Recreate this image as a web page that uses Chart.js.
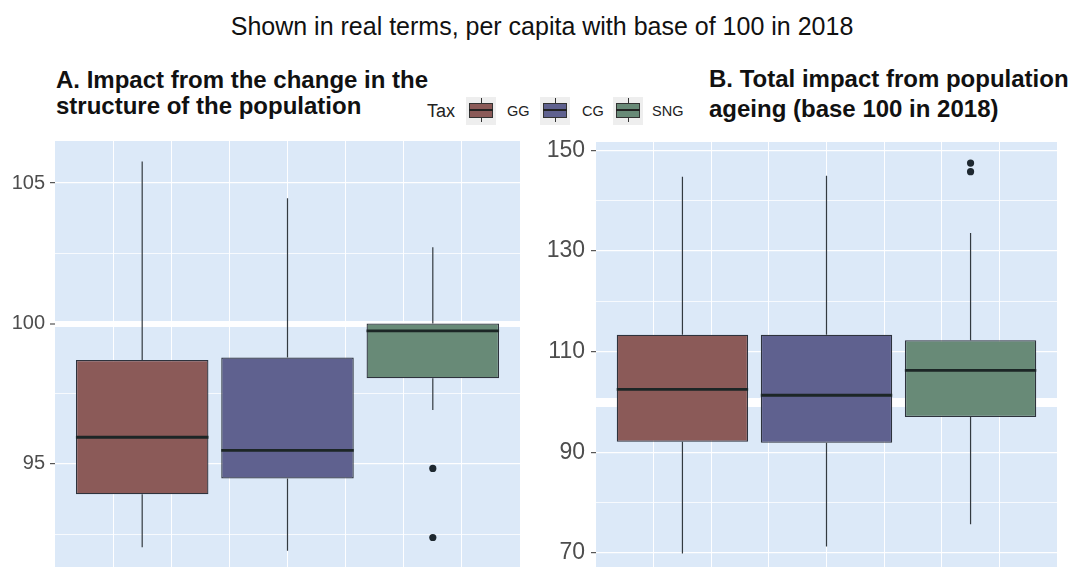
<!DOCTYPE html>
<html><head><meta charset="utf-8">
<script src="https://cdn.jsdelivr.net/npm/chart.js@4/dist/chart.umd.min.js"></script>
<style>
body{margin:0;width:1072px;height:571px;overflow:hidden;background:#fff;font-family:"Liberation Sans",Arial,sans-serif;position:relative}
#main{position:absolute;left:0;width:1084px;top:12px;text-align:center;font-size:25px;line-height:28px;color:#111;white-space:nowrap}
.pt{position:absolute;font-weight:bold;font-size:24px;color:#111;white-space:nowrap}
#tA{left:56px;top:67px;line-height:26px}
#tB{left:709px;top:64px;line-height:30px}
.lg{position:absolute;color:#222;white-space:nowrap;line-height:20px;top:101px}
.kbg{position:absolute;top:97px;width:30px;height:28px;background:#EEEEEE}
.kw{position:absolute;top:98px;height:24px;width:1px;background:#333}
.kb{position:absolute;top:103px;width:22px;height:13px;border:1px solid #333}
.km{position:absolute;top:109px;width:24px;height:2px;background:#222}
#wA{position:absolute;left:0;top:137px;width:524px;height:434px}
#wB{position:absolute;left:530px;top:138px;width:531px;height:433px}
</style></head><body>
<div id="main">Shown in real terms, per capita with base of 100 in 2018</div>
<div id="tA" class="pt">A. Impact from the change in the<br>structure of the population</div>
<div id="tB" class="pt">B. Total impact from population<br>ageing (base 100 in 2018)</div>
<div id="legend"></div>
<div id="wA"><canvas id="cA"></canvas></div>
<div id="wB"><canvas id="cB"></canvas></div>
<script>
// ---- data ----
const taxes = ["GG", "CG", "SNG"];
const boxColors = ["#8B5A58", "#5F618F", "#688A77"];
const xPositions = [1.5, 4, 6.5];        // dodged box centres on the panel's x scale
const xGridLines = [1, 2, 3, 4, 5, 6, 7];

// Panel A: impact from change in population structure
const aMin    = [92.03, 91.91, 96.92];
const aQ1     = [93.92, 94.48, 98.05];
const aMedian = [95.95, 95.48, 99.74];
const aQ3     = [98.70, 98.79, 100.00];
const aMax    = [105.77, 104.46, 102.72];
const aOutX   = [6.5, 6.5];
const aOutY   = [94.84, 92.38];
const aTicks  = [92.5, 95, 97.5, 100, 102.5, 105];
const aLabels = [95, 100, 105];

// Panel B: total impact from population ageing
const bMin    = [69.9, 71.3, 75.7];
const bQ1     = [92.1, 91.9, 97.0];
const bMedian = [102.5, 101.35, 106.3];
const bQ3     = [113.4, 113.4, 112.3];
const bMax    = [144.8, 145.0, 133.6];
const bOutX   = [6.5, 6.5];
const bOutY   = [147.5, 145.8];
const bTicks  = [70, 80, 90, 100, 110, 120, 130, 140, 150];
const bLabels = [70, 90, 110, 130, 150];

const refLine = 100;

// ---- style constants ----
const BOX_WIDTH = 2.28;   // in x-scale units
const X_RANGE = [0, 8];
const PANEL_BG = "#DCE9F8";

// legend (HTML)
const legendLayout = { tax: 427, keys: [469, 543, 616], labels: [507, 582, 652] };
let lh = `<span class="lg" style="left:${legendLayout.tax}px;font-size:18px">Tax</span>`;
taxes.forEach((t, i) => {
  const k = legendLayout.keys[i];
  lh += `<div class="kbg" style="left:${k - 3}px"></div>` +
        `<div class="kw" style="left:${k + 12}px"></div>` +
        `<div class="kb" style="left:${k}px;background:${boxColors[i]}"></div>` +
        `<div class="km" style="left:${k}px"></div>` +
        `<span class="lg" style="left:${legendLayout.labels[i]}px;font-size:14.5px;top:101px">${t}</span>`;
});
document.getElementById('legend').innerHTML = lh;

const bgPlugin = {
  id: 'panelBg',
  beforeDraw(chart) {
    const {ctx, chartArea: a} = chart;
    ctx.save(); ctx.fillStyle = PANEL_BG; ctx.fillRect(a.left, a.top, a.right - a.left, a.bottom - a.top); ctx.restore();
  }
};

function makeChart(id, mins, q1, med, q3, maxs, outX, outY, ticks, labels, yMin, yMax, axisWidth, labelSize, refWidth, tickPad) {
  const hw = BOX_WIDTH / 2;
  const whisk = [];
  xPositions.forEach((x, i) => {
    whisk.push({x, y: maxs[i]}, {x, y: q3[i]}, {x, y: null}, {x, y: q1[i]}, {x, y: mins[i]}, {x, y: null});
  });
  const meds = [];
  xPositions.forEach((x, i) => { meds.push({x: x - hw, y: med[i]}, {x: x + hw, y: med[i]}, {x, y: null}); });
  return new Chart(document.getElementById(id), {
    type: 'bar',
    data: {
      datasets: [
        { type: 'line', data: whisk, borderColor: '#333A40', borderWidth: 1.2, pointRadius: 0, spanGaps: false, order: 3 },
        { type: 'bar', data: xPositions.map((x, i) => ({x, y: [q1[i], q3[i]]})),
          backgroundColor: boxColors, borderColor: '#2E333D', borderWidth: 1.3, borderSkipped: false,
          categoryPercentage: 1, barPercentage: BOX_WIDTH / (xGridLines[1] - xGridLines[0]), order: 2 },
        { type: 'line', data: meds, borderColor: '#1C2626', borderWidth: 2.8, pointRadius: 0, spanGaps: false, order: 1 },
        { type: 'scatter', data: outX.map((x, i) => ({x, y: outY[i]})), pointRadius: 3.6, backgroundColor: '#1E2830', borderWidth: 0, order: 0 }
      ]
    },
    options: {
      responsive: true, maintainAspectRatio: false, animation: false,
      layout: { padding: 0 },
      plugins: { legend: { display: false }, tooltip: { enabled: false } },
      scales: {
        x: {
          type: 'linear', min: X_RANGE[0], max: X_RANGE[1], offset: false,
          afterBuildTicks(s) { s.ticks = xGridLines.map(v => ({value: v})); },
          ticks: { display: false },
          grid: { color: 'rgba(255,255,255,0.95)', lineWidth: 1, drawTicks: false, offset: false },
          border: { display: false }
        },
        y: {
          type: 'linear', min: yMin, max: yMax,
          afterBuildTicks(s) { s.ticks = ticks.map(v => ({value: v})); },
          afterFit(s) { s.width = axisWidth; s.paddingTop = 0; s.paddingBottom = 0; },
          ticks: {
            color: '#4D4D4D', font: { family: 'Liberation Sans', size: labelSize }, padding: tickPad,
            callback: (v) => labels.includes(v) ? String(v) : ''
          },
          grid: {
            color: 'rgba(255,255,255,0.95)',
            lineWidth: (c) => c.tick && c.tick.value === refLine ? refWidth : (c.tick && labels.includes(c.tick.value) ? 1.3 : 0.8),
            tickColor: (c) => c.tick && labels.includes(c.tick.value) ? '#444' : 'rgba(0,0,0,0)',
            tickWidth: 1.1,
            tickLength: 5, drawTicks: true
          },
          border: { display: false }
        }
      }
    },
    plugins: [bgPlugin]
  });
}

makeChart('cA', aMin, aQ1, aMedian, aQ3, aMax, aOutX, aOutY, aTicks, aLabels, 91.33, 106.5, 55, 20, 6, 5);
makeChart('cB', bMin, bQ1, bMedian, bQ3, bMax, bOutX, bOutY, bTicks, bLabels, 67.2, 151.7, 66, 23, 9, 6);
</script>
</body></html>
